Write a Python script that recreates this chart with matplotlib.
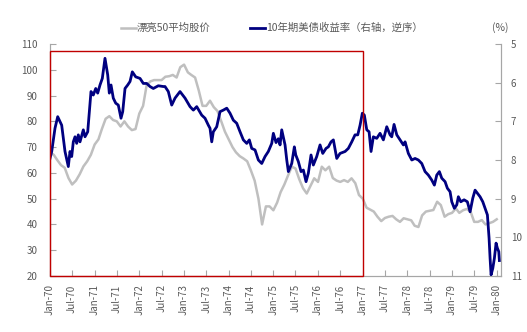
import matplotlib.pyplot as plt
import matplotlib.dates as mdates
from matplotlib.patches import Rectangle
import numpy as np
import pandas as pd

plt.rcParams['font.family'] = ['Noto Sans CJK SC', 'DejaVu Sans']

# Nifty Fifty average price, monthly Jan-1970 .. Jan-1980
stock_dates = pd.date_range('1970-01-01', periods=121, freq='MS')
stock_price = [
    68, 67, 65, 63, 62, 58, 55.5, 57, 59.5, 62.5, 64.5, 67,
    71, 73, 77, 81, 82, 80.5, 80, 78, 80, 78, 76.6, 77,
    83, 86, 94, 95.5, 96, 96, 96, 97.3, 97.5, 98, 97, 101,
    102, 99, 98, 97, 92, 86, 86, 88, 85.5, 84, 80, 76,
    73, 70, 68, 66.5, 65.6, 64.5, 61, 57, 50, 40, 47, 47,
    45.5, 48.5, 52.5, 55.5, 59, 62.4, 61.7, 57.5, 54, 52, 55, 57.9,
    56.5, 62.4, 61, 62.4, 58, 57, 56.5, 57.2, 56.5, 57.9, 56, 51.4,
    50, 46.5, 45.8, 45, 43, 41.3, 42.5, 43, 43.3, 42, 41, 42.4,
    42, 41.6, 39.5, 39, 43.5, 45, 45.3, 45.6, 48.8, 47.5, 43, 44,
    44.5, 46.2, 44.5, 45.5, 46, 45, 41, 41, 41.7, 40, 40.5, 41,
    42,
]

# 10Y treasury yield (%), months since Jan-1970
yield_months = [
    0.0, 0.46, 1.34, 2.07, 2.69, 3.14, 3.57, 4.03, 4.3, 4.92, 5.37, 5.83,
    6.26, 6.72, 7.17, 7.6, 8.06, 8.95, 9.4, 10.13, 10.56, 11.01, 11.63, 12.28,
    12.81, 13.43, 14.05, 14.77, 15.5, 15.93, 16.39, 17.0, 17.65, 18.35, 19.07, 19.53,
    20.15, 20.87, 21.49, 22.11, 23.02, 24.18, 25.06, 25.98, 26.86, 27.75, 29.09, 30.44,
    30.89, 31.78, 32.69, 33.58, 34.92, 36.27, 37.61, 38.5, 39.41, 40.75, 41.64, 42.53,
    42.98, 43.44, 43.87, 44.78, 45.67, 46.55, 47.47, 48.35, 49.24, 50.15, 51.04, 51.93,
    52.84, 53.54, 54.18, 55.07, 55.96, 56.87, 57.76, 58.64, 59.56, 59.99, 60.71, 61.33,
    61.79, 62.24, 63.13, 63.59, 64.02, 64.93, 65.63, 66.01, 66.7, 67.43, 68.05, 68.77,
    69.39, 70.11, 70.73, 71.64, 72.53, 73.26, 74.14, 74.76, 75.49, 76.11, 77.02, 77.9,
    79.25, 80.13, 81.05, 81.93, 82.66, 83.28, 83.89, 84.43, 85.08, 85.7, 86.23, 86.85,
    87.76, 88.65, 89.54, 90.45, 91.34, 91.79, 92.41, 93.14, 94.02, 94.91, 95.37, 96.25,
    97.17, 98.05, 98.94, 99.85, 100.74, 101.62, 102.54, 103.24, 103.88, 104.58, 105.22, 106.11,
    106.73, 107.45, 107.91, 108.61, 109.25, 109.68, 110.33, 111.22, 112.1, 112.83, 113.55, 114.17,
    114.79, 115.51, 116.24, 116.86, 117.48, 117.93, 118.2, 118.47, 118.93, 119.36, 119.81, 120.16,
    120.54, 120.7,
]
yield_pct = [
    7.96, 7.78, 7.18, 6.88, 7.01, 7.1, 7.44, 7.78, 7.9, 8.17, 7.78, 7.91,
    7.53, 7.4, 7.57, 7.35, 7.53, 7.22, 7.4, 7.27, 6.75, 6.23, 6.32, 6.15,
    6.27, 6.06, 5.89, 5.37, 5.8, 6.27, 6.06, 6.4, 6.53, 6.58, 6.92, 6.75,
    6.15, 6.06, 5.97, 5.72, 5.85, 5.89, 6.02, 6.02, 6.1, 6.15, 6.08, 6.1,
    6.1, 6.23, 6.58, 6.4, 6.23, 6.4, 6.62, 6.71, 6.62, 6.84, 6.92, 7.1,
    7.18, 7.53, 7.27, 7.14, 6.75, 6.71, 6.66, 6.79, 6.97, 7.05, 7.27, 7.48,
    7.57, 7.48, 7.7, 7.74, 8.0, 8.09, 7.91, 7.78, 7.57, 7.31, 7.55, 7.45,
    7.61, 7.22, 7.61, 8.0, 8.3, 8.09, 7.66, 7.87, 8.04, 8.3, 8.26, 8.56,
    8.34, 7.87, 8.13, 7.91, 7.61, 7.83, 7.7, 7.66, 7.53, 7.48, 7.96, 7.83,
    7.78, 7.7, 7.53, 7.35, 7.35, 7.1, 6.79, 6.84, 7.22, 7.27, 7.78, 7.4,
    7.44, 7.31, 7.48, 7.14, 7.35, 7.4, 7.08, 7.35, 7.48, 7.61, 7.53, 7.83,
    8.0, 7.96, 8.0, 8.09, 8.3, 8.39, 8.52, 8.65, 8.39, 8.3, 8.47, 8.56,
    8.73, 8.82, 9.08, 9.25, 9.16, 8.95, 9.08, 9.03, 9.08, 9.34, 8.99, 8.78,
    8.86, 8.95, 9.08, 9.25, 9.42, 10.02, 10.54, 10.97, 10.8, 10.54, 10.15, 10.28,
    10.37, 10.6,
]

start = pd.Timestamp('1970-01-01')
yield_dates = start + pd.to_timedelta(np.array(yield_months) * 30.4375, unit='D')

fig = plt.figure(figsize=(5.27, 3.32), dpi=100)
ax = fig.add_axes([50 / 527, 1 - 276 / 332, 451 / 527, 232 / 332])
ax2 = ax.twinx()

l1, = ax.plot(stock_dates, stock_price, color='#BFBFBF', lw=1.8, label='漂亮50平均股价')
l2, = ax2.plot(yield_dates, yield_pct, color='#000080', lw=2.0, label='10年期美债收益率（右轴，逆序）')

ax.set_xlim(start, pd.Timestamp('1980-02-05'))
ax.set_ylim(20, 110)
ax.set_yticks(range(20, 111, 10))
ax2.set_ylim(11, 5)
ax2.set_yticks(range(5, 12))

xt = pd.date_range('1970-01-01', '1980-01-01', freq='6MS')
ax.set_xticks(xt)
ax.xaxis.set_major_formatter(mdates.DateFormatter('%b-%y'))

spine_c = '#A6A6A6'
txt_c = '#595959'
for a in (ax, ax2):
    a.spines['top'].set_visible(False)
    for s in ('left', 'right', 'bottom'):
        a.spines[s].set_color(spine_c)
        a.spines[s].set_linewidth(0.8)
ax.tick_params(axis='y', direction='in', length=4, color=spine_c, labelsize=7, labelcolor=txt_c, pad=9)
ax2.tick_params(axis='y', direction='in', length=4, color=spine_c, labelsize=7, labelcolor=txt_c, pad=7)
ax.tick_params(axis='x', direction='in', length=4, color=spine_c, labelsize=7, labelcolor=txt_c,
               pad=6, labelrotation=90)

# highlight box Jan-70 .. Jan-77
x0 = mdates.date2num(start)
x1 = mdates.date2num(pd.Timestamp('1977-01-01'))
box = Rectangle((x0, 20), x1 - x0, 87.3, fill=False, edgecolor='#C00000', lw=1.0,
                transform=ax.transData, zorder=5, clip_on=False)
ax2.add_patch(box)

fig.legend(handles=[l1, l2], loc='center', bbox_to_anchor=(272 / 527, 1 - 28 / 332), ncol=2,
           frameon=False, fontsize=7.5, handlelength=1.4, handletextpad=0.1, columnspacing=3.8,
           labelcolor=txt_c)
fig.text(500 / 527, 1 - 28 / 332, '(%)', fontsize=7.5, color=txt_c, ha='center', va='center')

fig.savefig('out.png', dpi=100, facecolor='white')
